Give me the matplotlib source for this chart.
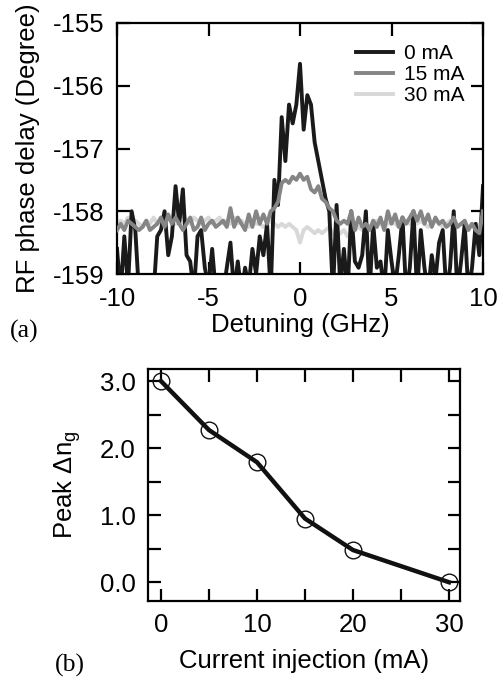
import numpy as np
import matplotlib
matplotlib.use('Agg')
import matplotlib.pyplot as plt

plt.rcParams['font.family'] = ['Liberation Sans', 'DejaVu Sans']
plt.rcParams['axes.unicode_minus'] = False
plt.rcParams['mathtext.fontset'] = 'custom'
plt.rcParams['mathtext.rm'] = 'Liberation Sans'
plt.rcParams['mathtext.it'] = 'Liberation Sans'

# panel (a): RF phase delay vs detuning
detuning = np.arange(-10, 10.01, 0.2)
phase_0mA = [-158.6, -159.3, -158.4, -159.2, -158.0, -158.3, -159.3, -159.3, -159.3, -159.3,
             -159.3, -158.4, -158.3, -158.0, -158.7, -158.4, -157.6, -158.2, -157.65, -158.7,
             -158.8, -159.3, -158.4, -158.3, -158.9, -159.2, -158.6, -159.3, -159.3, -159.3,
             -158.9, -158.5, -159.3, -158.8, -159.3, -158.9, -159.2, -158.6, -159.0, -158.4,
             -158.7, -158.2, -159.3, -157.5, -157.9, -156.5, -157.2, -156.3, -156.6, -156.3,
             -155.65, -156.7, -156.15, -156.3, -156.9, -157.2, -157.5, -157.8, -158.0, -159.3,
             -157.9, -159.2, -158.6, -159.3, -158.0, -158.8, -158.9, -158.7, -158.0, -159.3,
             -158.2, -158.9, -158.8, -159.3, -158.3, -158.8, -159.2, -158.7, -158.1, -159.3,
             -158.9, -158.0, -159.3, -158.3, -158.9, -159.3, -158.7, -159.1, -158.5, -158.3,
             -159.3, -158.9, -158.0, -159.3, -158.8, -158.2, -159.3, -158.9, -158.2, -158.7,
             -157.6]
phase_15mA = [-158.3, -158.2, -158.3, -158.15, -158.2, -158.25, -158.3, -158.25, -158.15, -158.3,
              -158.25, -158.2, -158.1, -158.25, -158.05, -158.2, -158.1, -158.2, -158.3, -158.2,
              -158.1, -158.3, -158.25, -158.1, -158.3, -158.2, -158.15, -158.25, -158.2, -158.15,
              -158.25, -157.95, -158.25, -158.1, -158.2, -158.3, -158.05, -158.25, -158.0, -158.2,
              -158.05, -158.2, -158.0, -157.95, -157.85, -157.55, -157.5, -157.55, -157.45, -157.5,
              -157.4, -157.5, -157.45, -157.65, -157.7, -157.6, -157.8, -157.85, -157.95, -158.0,
              -158.15, -158.2, -158.15, -158.2, -158.0, -158.3, -158.1, -158.25, -158.2, -158.3,
              -158.15, -158.25, -158.1, -158.3, -158.0, -158.2, -158.05, -158.25, -158.1, -158.2,
              -158.1, -158.0, -158.15, -158.0, -158.2, -158.05, -158.25, -158.1, -158.2, -158.15,
              -158.25, -158.2, -158.1, -158.25, -158.2, -158.15, -158.3, -158.2, -158.3, -158.35,
              -158.0]
phase_30mA = [-158.2, -158.15, -158.2, -158.1, -158.2, -158.15, -158.2, -158.25, -158.15, -158.2,
              -158.1, -158.2, -158.15, -158.2, -158.1, -158.15, -158.2, -158.1, -158.05, -158.15,
              -158.2, -158.1, -158.15, -158.2, -158.15, -158.1, -158.2, -158.15, -158.1, -158.2,
              -158.15, -158.2, -158.1, -158.2, -158.15, -158.2, -158.25, -158.15, -158.2, -158.2,
              -158.25, -158.2, -158.15, -158.2, -158.25, -158.2, -158.25, -158.2, -158.25, -158.3,
              -158.5, -158.3, -158.25, -158.3, -158.35, -158.3, -158.35, -158.3, -158.25, -158.35,
              -158.4, -158.35, -158.3, -158.4, -158.35, -158.3, -158.25, -158.3, -158.2, -158.25,
              -158.2, -158.15, -158.2, -158.25, -158.2, -158.15, -158.2, -158.25, -158.2, -158.15,
              -158.2, -158.1, -158.2, -158.15, -158.2, -158.25, -158.2, -158.15, -158.2, -158.25,
              -158.2, -158.15, -158.2, -158.25, -158.2, -158.2, -158.25, -158.2, -158.25, -158.2,
              -158.2]

# panel (b): peak group index change vs current
current = [0, 5, 10, 15, 20, 30]
peak_dng = [3.0, 2.27, 1.79, 0.95, 0.48, 0.0]

fs = 18.5
fig = plt.figure(figsize=(4.99, 6.78), dpi=100)

ax1 = fig.add_axes([117/499, 1 - 274/678, 366/499, 251/678])
ax1.plot(detuning, phase_30mA, color='#d8d8d8', lw=2.8, label='30 mA', zorder=2)
ax1.plot(detuning, phase_15mA, color='#858585', lw=2.8, label='15 mA', zorder=3)
ax1.plot(detuning, phase_0mA, color='#1a1a1a', lw=2.8, label='0 mA', zorder=2.5)
ax1.set_xlim(-10, 10)
ax1.set_ylim(-159, -155)
ax1.set_xticks([-10, -5, 0, 5, 10])
ax1.set_yticks([-159, -158, -157, -156, -155])
ax1.set_xlabel('Detuning (GHz)', fontsize=fs, labelpad=2)
ax1.set_ylabel('RF phase delay (Degree)', fontsize=fs, labelpad=9)
h, l = ax1.get_legend_handles_labels()
ax1.legend(h[::-1], l[::-1], loc='upper right', frameon=False, fontsize=15,
           handlelength=1.8, handletextpad=0.5, labelspacing=0.1,
           bbox_to_anchor=(1.0, 0.99))

ax2 = fig.add_axes([148/499, 1 - 601/678, 312/499, 232/678])
ax2.plot(current, peak_dng, color='#111111', lw=3.2, marker='o', ms=12,
         mfc='none', mec='#111111', mew=1.0)
ax2.set_xlim(-1.35, 31.15)
ax2.set_ylim(-0.28, 3.18)
ax2.set_xticks([0, 10, 20, 30])
ax2.set_xticks([5, 15, 25], minor=True)
ax2.set_yticks([0, 1, 2, 3])
ax2.set_yticks([0.5, 1.5, 2.5], minor=True)
ax2.set_yticklabels(['0.0', '1.0', '2.0', '3.0'])
ax2.set_xlabel('Current injection (mA)', fontsize=fs, labelpad=8)
ax2.set_ylabel(r'Peak $\Delta$n$_\mathrm{g}$', fontsize=fs, labelpad=12)

for ax in (ax1, ax2):
    for sp in ax.spines.values():
        sp.set_linewidth(1.6)
    ax.tick_params(which='both', direction='in', top=True, right=True,
                   labelsize=fs, width=1.6, pad=9)
    ax.tick_params(which='major', length=9)
    ax.tick_params(which='minor', length=9)

fig.text(10/499, 1 - 331/678, '(a)', fontsize=fs, family='Liberation Serif', va='center')
fig.text(55/499, 1 - 665/678, '(b)', fontsize=fs, family='Liberation Serif', va='center')

fig.savefig('out.png', dpi=100)
